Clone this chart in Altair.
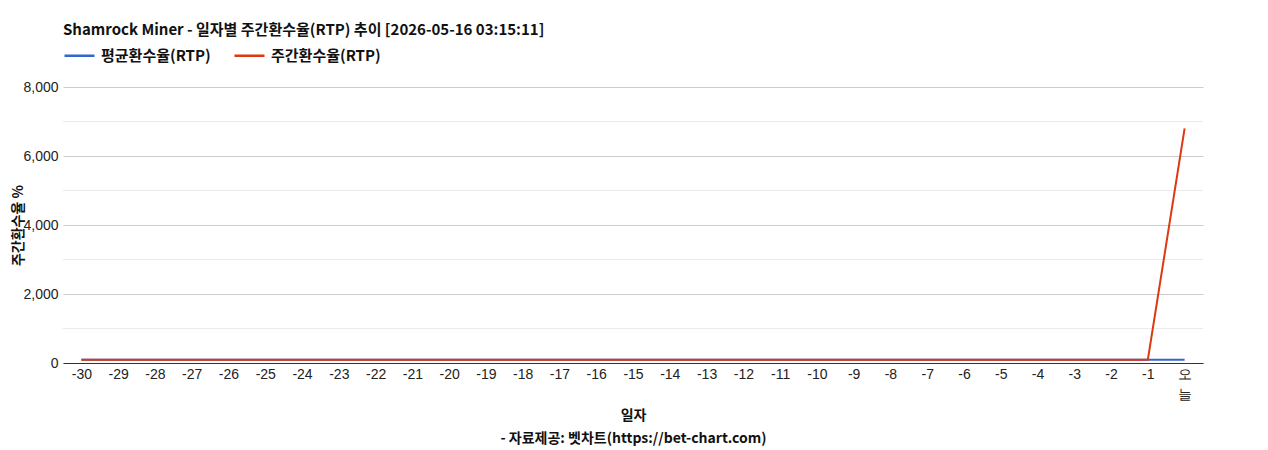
import altair as alt
import pandas as pd

days = ["-30", "-29", "-28", "-27", "-26", "-25", "-24", "-23", "-22", "-21",
        "-20", "-19", "-18", "-17", "-16", "-15", "-14", "-13", "-12", "-11",
        "-10", "-9", "-8", "-7", "-6", "-5", "-4", "-3", "-2", "-1", "오늘"]
avg_rtp = [96, 96, 96, 96, 96, 96, 96, 96, 96, 96,
           96, 96, 96, 96, 96, 96, 96, 96, 96, 96,
           96, 96, 96, 96, 96, 96, 96, 96, 96, 96, 96]
week_rtp = [96, 96, 96, 96, 96, 96, 96, 96, 96, 96,
            96, 96, 96, 96, 96, 96, 96, 96, 96, 96,
            96, 96, 96, 96, 96, 96, 96, 96, 96, 96, 6800]
series_names = ["평균환수율(RTP)", "주간환수율(RTP)"]
series_colors = ["#3366cc", "#dc3912"]
major_ticks = [0, 2000, 4000, 6000, 8000]
minor_ticks = [1000, 3000, 5000, 7000]

rows = []
for d, v in zip(days, avg_rtp):
    rows.append({"day": d, "series": series_names[0], "value": v})
for d, v in zip(days, week_rtp):
    rows.append({"day": d, "series": series_names[1], "value": v})
df = pd.DataFrame(rows)

KFONT = "Noto Sans CJK KR"
LFONT = "Liberation Sans"

x_enc = alt.X("day:N", sort=days, scale=alt.Scale(padding=0.5),
              axis=alt.Axis(title=["일자", "- 자료제공: 벳차트(https://bet-chart.com)"],
                            titleFont=KFONT, titleFontSize=14, titleFontWeight="bold",
                            titleColor="#111", titleLineHeight=23, titlePadding=7,
                            labelAngle=0, labelFont=LFONT, labelFontSize=14,
                            labelColor="#222", labelPadding=4, ticks=False,
                            domainColor="#333", domainWidth=1, grid=False,
                            labelLineHeight=20,
                            labelExpr="datum.value == '오늘' ? ['오', '늘'] : datum.value"))
y_scale = alt.Scale(domain=[0, 8000], nice=False)
y_axis = alt.Axis(title="주간환수율 %", values=major_ticks, format=",.0f",
                  titleFont=KFONT, titleFontSize=14, titleFontWeight="bold",
                  titleColor="#111", titlePadding=-3,
                  labelFont=LFONT, labelFontSize=14, labelColor="#222",
                  labelPadding=5, ticks=False, domain=False,
                  gridColor="#cccccc", gridWidth=1)
y_enc = alt.Y("value:Q", scale=y_scale, axis=y_axis)
color_enc = alt.Color("series:N",
                      scale=alt.Scale(domain=series_names, range=series_colors),
                      legend=alt.Legend(title=None, orient="none", legendX=0, legendY=-48,
                                        direction="horizontal", symbolType="stroke",
                                        symbolStrokeWidth=2.5, symbolSize=900,
                                        labelFont=KFONT, labelFontSize=15,
                                        labelFontWeight="bold", labelColor="#111",
                                        columnPadding=18, labelOffset=5))

minor = alt.Chart(pd.DataFrame({"value": minor_ticks})).mark_rule(
    color="#ebebeb", strokeWidth=1).encode(y=y_enc)

base = alt.Chart(df)
blue = base.transform_filter(alt.datum.series == series_names[0]).mark_line(
    strokeWidth=2).encode(x=x_enc, y=y_enc, color=color_enc)
red = base.transform_filter(alt.datum.series == series_names[1]).mark_line(
    strokeWidth=2).encode(x=x_enc, y=y_enc, color=color_enc)

chart = alt.layer(minor, blue, red).properties(
    width=1140, height=276,
    background="white",
    title=alt.TitleParams("Shamrock Miner - 일자별 주간환수율(RTP) 추이 [2026-05-16 03:15:11]",
                          anchor="start", frame="group", font=KFONT, fontSize=15,
                          fontWeight="bold", color="#111", offset=1),
    autosize=alt.AutoSizeParams(type="none"),
    padding={"left": 55, "top": 79, "right": 57, "bottom": 87},
).configure_view(stroke=None)

chart.save("out.html", embed_options={"renderer": "svg", "actions": False})
